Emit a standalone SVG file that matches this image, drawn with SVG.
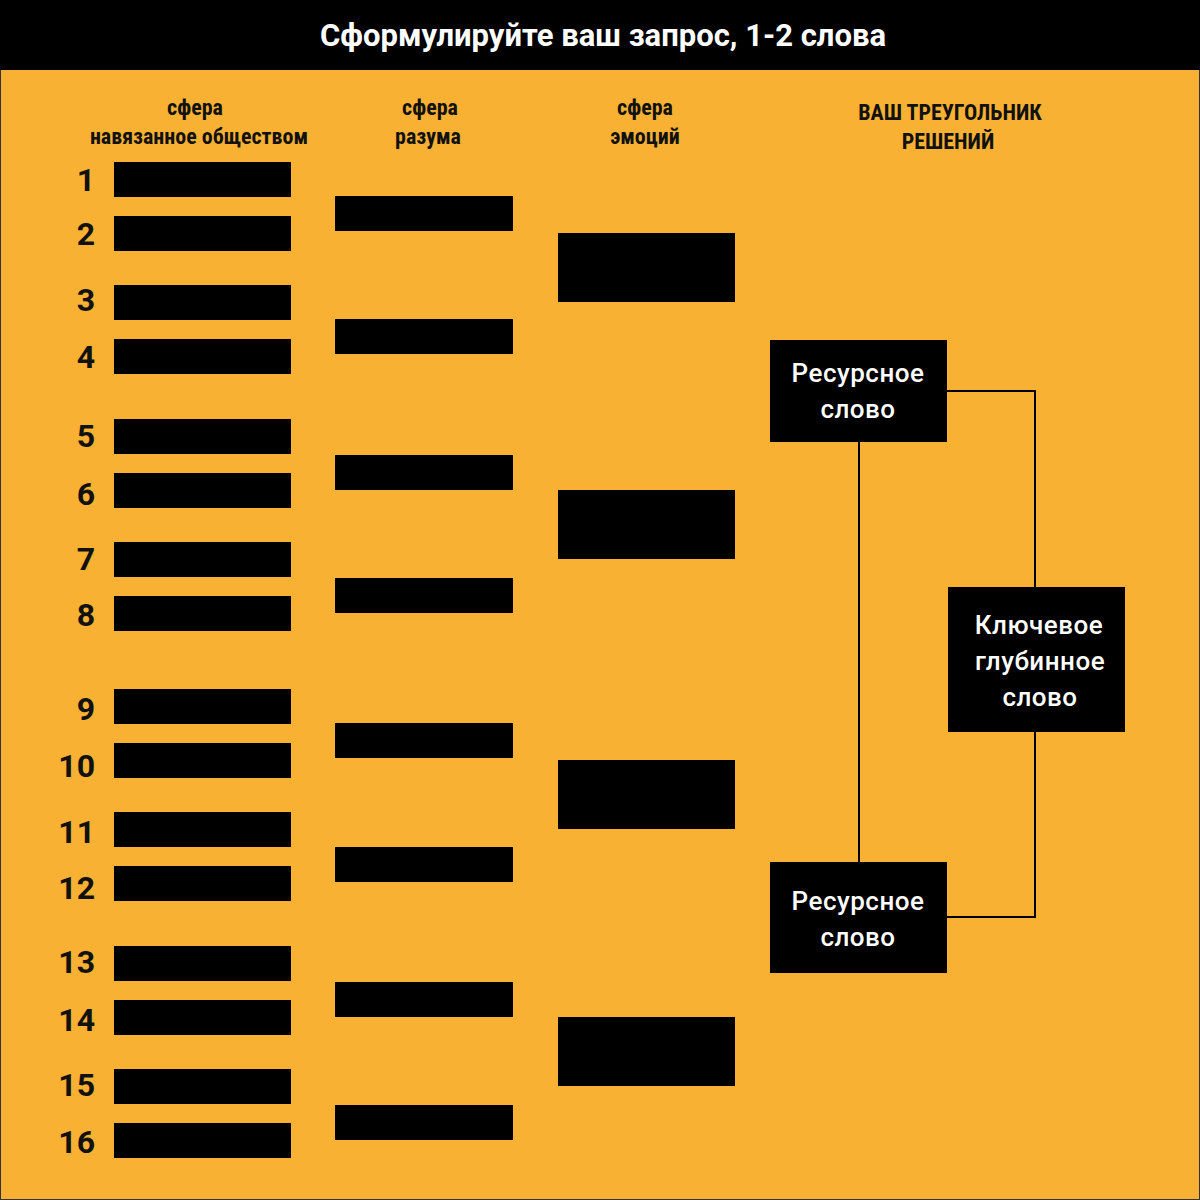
<svg xmlns="http://www.w3.org/2000/svg" width="1200" height="1200" viewBox="0 0 1200 1200">
<style>
.h{font-family:"Roboto Condensed",Roboto,"Liberation Sans",sans-serif;font-weight:bold;font-size:22px;fill:#111;text-anchor:middle}
.n{font-family:Roboto,"Liberation Sans",sans-serif;font-weight:bold;font-size:32px;fill:#111;text-anchor:end}
.w{font-family:Roboto,"Liberation Sans",sans-serif;font-weight:500;font-size:26px;fill:#fff;text-anchor:middle;letter-spacing:0.5px}
.b{fill:#000}
.ln{stroke:#000;stroke-width:2;fill:none}
</style>
<rect x="0" y="0" width="1200" height="1200" fill="#F8B133" stroke="#333" stroke-width="2"/>
<rect x="0" y="0" width="1200" height="70" fill="#000"/>
<text x="603" y="46" font-family="Roboto,'Liberation Sans',sans-serif" font-weight="bold" font-size="31" fill="#fff" text-anchor="middle">Сформулируйте ваш запрос, 1-2 слова</text>
<text class="h" x="195" y="115">сфера</text><text class="h" x="199" y="144">навязанное обществом</text>
<text class="h" x="430" y="115">сфера</text><text class="h" x="428" y="144">разума</text>
<text class="h" x="645" y="115">сфера</text><text class="h" x="645" y="144">эмоций</text>
<text class="h" x="950" y="120">ВАШ ТРЕУГОЛЬНИК</text><text class="h" x="948" y="149">РЕШЕНИЙ</text>
<g id="col1">
<rect class="b" x="114" y="162" width="177" height="35"/><text class="n" x="95" y="191">1</text>
<rect class="b" x="114" y="216" width="177" height="35"/><text class="n" x="95" y="245">2</text>
<rect class="b" x="114" y="285" width="177" height="35"/><text class="n" x="95" y="311">3</text>
<rect class="b" x="114" y="339" width="177" height="35"/><text class="n" x="95" y="368">4</text>
<rect class="b" x="114" y="419" width="177" height="35"/><text class="n" x="95" y="447">5</text>
<rect class="b" x="114" y="473" width="177" height="35"/><text class="n" x="95" y="505">6</text>
<rect class="b" x="114" y="542" width="177" height="35"/><text class="n" x="95" y="570">7</text>
<rect class="b" x="114" y="596" width="177" height="35"/><text class="n" x="95" y="626">8</text>
<rect class="b" x="114" y="689" width="177" height="35"/><text class="n" x="95" y="720">9</text>
<rect class="b" x="114" y="743" width="177" height="35"/><text class="n" x="95" y="777">10</text>
<rect class="b" x="114" y="812" width="177" height="35"/><text class="n" x="95" y="843">11</text>
<rect class="b" x="114" y="866" width="177" height="35"/><text class="n" x="95" y="899">12</text>
<rect class="b" x="114" y="946" width="177" height="35"/><text class="n" x="95" y="973">13</text>
<rect class="b" x="114" y="1000" width="177" height="35"/><text class="n" x="95" y="1031">14</text>
<rect class="b" x="114" y="1069" width="177" height="35"/><text class="n" x="95" y="1096">15</text>
<rect class="b" x="114" y="1123" width="177" height="35"/><text class="n" x="95" y="1153">16</text>
</g>
<g id="col2">
<rect class="b" x="335" y="196" width="178" height="35"/>
<rect class="b" x="335" y="319" width="178" height="35"/>
<rect class="b" x="335" y="455" width="178" height="35"/>
<rect class="b" x="335" y="578" width="178" height="35"/>
<rect class="b" x="335" y="723" width="178" height="35"/>
<rect class="b" x="335" y="847" width="178" height="35"/>
<rect class="b" x="335" y="982" width="178" height="35"/>
<rect class="b" x="335" y="1105" width="178" height="35"/>
</g>
<g id="col3">
<rect class="b" x="558" y="233" width="177" height="69"/>
<rect class="b" x="558" y="490" width="177" height="69"/>
<rect class="b" x="558" y="760" width="177" height="69"/>
<rect class="b" x="558" y="1017" width="177" height="69"/>
</g>
<g id="connectors">
<path class="ln" d="M859 442V862"/>
<path class="ln" d="M947 391H1035V587"/>
<path class="ln" d="M1035 732V917H947"/>
</g>
<g id="res1"><rect class="b" x="770" y="340" width="177" height="102"/><text class="w" x="858" y="382">Ресурсное</text><text class="w" x="858" y="418">слово</text></g>
<g id="res2"><rect class="b" x="770" y="862" width="177" height="111"/><text class="w" x="858" y="910">Ресурсное</text><text class="w" x="858" y="946">слово</text></g>
<g id="key"><rect class="b" x="948" y="587" width="177" height="145"/><text class="w" x="1039" y="634">Ключевое</text><text class="w" x="1040" y="670">глубинное</text><text class="w" x="1040" y="706">слово</text></g>
</svg>
